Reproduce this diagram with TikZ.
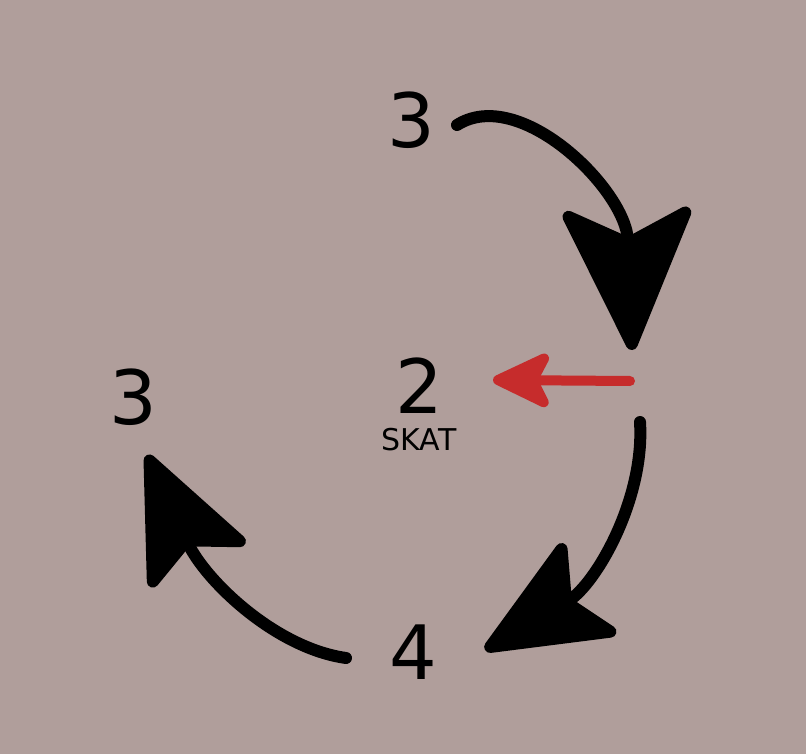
\documentclass[tikz,border=0pt]{standalone}
\usepackage{fontspec}
\setmainfont{DejaVu Sans}
\usetikzlibrary{
  arrows.meta,
  positioning,  % Function "of" (e.g. [below=of x])
  backgrounds,  % Background rectangle
}
\definecolor{tablecloth}{RGB}{176,158,155}
\definecolor{skatred}{RGB}{198,44,44}
\def\mydist{14pt}
\tikzset{
  seat/.style={
    inner sep=0pt,
    font=\fontsize{75}{75}\selectfont
  },
  small text/.style={
    inner sep=0pt,
    font=\fontsize{30}{30}\selectfont
  },
  pass/.style={
    line width=12pt,
    line cap=round,
    line join=round,
    -{Stealth[length=156pt,width=140pt,inset=34pt,round]}
  },
  pass small/.style={
    pass,
    -{Stealth[length=138pt,width=118pt,inset=28pt,round]}
  },
  skat arrow/.style={
    draw=skatred,
    line width=10pt,
    line cap=round,
    line join=round,
    -{Stealth[length=68pt,width=64pt,inset=16pt,round]}
  }
}

\begin{document}
\begin{tikzpicture}[x=1pt,y=-1pt,
  show background rectangle,
  background rectangle/.style={fill=tablecloth,draw=none}]
\useasboundingbox (0,0) rectangle (806,754);
\node[seat]       (top)  at (411,120) {3};
\node[seat]       (left) at (133,397) {3};
\node[seat]       (mid)  at (419,386) {2};
\node[small text] (skat) [below=\mydist of mid] {SKAT};
\node[seat]       (bot)  at (413,652) {4};
% free ends of the passes
\coordinate (top out)  at (457,125);
\coordinate (right in) at (632,350);
\coordinate (right out) at (640,422);
\coordinate (bot in)   at (485,650);
\coordinate (bot out)  at (346,658);
\coordinate (left in)  at (147,455);
\coordinate (red out)  at (630,381);
\coordinate (red in)   at (493,380);
\draw[pass]       (top out) .. controls (520,85) and (626,190) .. (right in);
\draw[pass small] (right out) .. controls (645,500) and (595,585) .. (bot in);
\draw[pass small] (bot out) .. controls (275,648) and (205,580) .. (left in);
\draw[skat arrow] (red out) -- (red in);
\end{tikzpicture}
\end{document}
